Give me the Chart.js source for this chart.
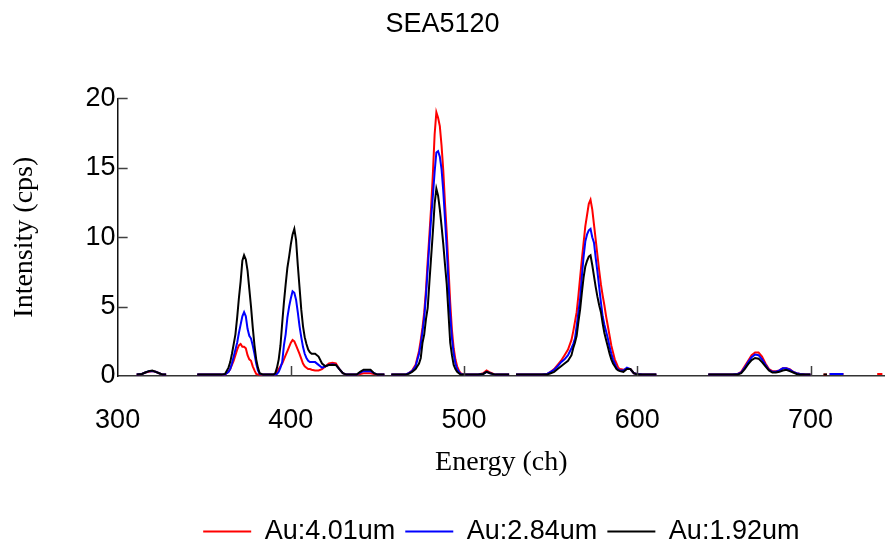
<!DOCTYPE html>
<html>
<head>
<meta charset="utf-8">
<script src="https://cdn.jsdelivr.net/npm/chart.js@4/dist/chart.umd.min.js"></script>
<style>
html,body{margin:0;padding:0;background:#fff;}
#wrap{width:885px;height:546px;}
</style>
</head>
<body>
<div id="wrap"><canvas id="c" width="885" height="546"></canvas></div>
<script>
const titleText = "SEA5120";
const xTitle = "Energy (ch)";
const yTitle = "Intensity (cps)";
const seriesNames = ["Au:4.01um", "Au:2.84um", "Au:1.92um"];
const seriesColors = ["#ff0000", "#0000ff", "#000000"];
const xTicks = [300, 400, 500, 600, 700];
const yTicks = [0, 5, 10, 15, 20];

const channels = [
 311,314,316,318,320,322,324,326,328,337,
 346,350,355,360,362,364,365,366,367,368,369,370,371,372,373,374,375,376,377,378,379,380,381,382,384,386,388,390,
 391,392,393,394,395,396,397,398,399,400,401,402,403,404,405,406,407,408,409,410,411,412,414,416,418,420,422,424,426,428,430,432,434,436,438,440,442,444,446,448,450,452,454,456,
 458,462,466,468,470,472,474,475,476,477,478,479,480,481,482,483,484,485,486,487,488,489,490,491,492,493,494,495,496,497,498,500,504,508,511,513,515,518,522,526,528,
 530,535,540,545,548,550,552,554,556,558,560,562,563,564,565,566,567,568,569,570,571,572,573,574,575,576,577,578,579,580,581,582,583,584,585,586,587,588,589,590,592,594,596,598,600,603,606,609,611,625,
 641,645,650,655,658,660,662,664,666,668,670,672,674,676,678,680,682,684,686,688,690,692,694,697,700,704,
 707.5,709.5,710.5,711,715,719,725,738.5,741.5
];

const red = [
 0.1,0.15,0.25,0.3,0.35,0.3,0.2,0.1,0.1,null,
 0.1,0.1,0.1,0.1,0.1,0.3,0.5,0.8,1.1,1.5,1.9,2.2,2.3,2.1,2.1,2.0,1.5,1.2,1.1,0.7,0.4,0.15,0.1,0.1,0.1,0.1,0.1,0.1,
 0.1,0.3,0.5,0.7,0.9,1.2,1.5,1.8,2.1,2.4,2.6,2.5,2.2,1.9,1.6,1.25,0.9,0.7,0.6,0.5,0.5,0.45,0.4,0.4,0.5,0.7,0.9,0.95,0.9,0.5,0.2,0.1,0.1,0.1,0.1,0.15,0.2,0.2,0.2,0.15,0.1,0.1,0.1,null,
 0.1,0.1,0.1,0.2,0.4,0.8,1.8,2.6,3.5,4.6,6.2,8.3,10.2,12.2,14.6,17.4,19.0,18.6,18.0,16.6,14.8,12.4,10.3,7.8,5.3,3.3,2.0,1.2,0.7,0.4,0.2,0.1,0.1,0.1,0.2,0.4,0.25,0.1,0.1,0.1,null,
 0.1,0.1,0.1,0.1,0.15,0.3,0.5,0.8,1.1,1.5,1.9,2.6,3.2,3.9,4.6,5.8,7.1,8.4,9.6,10.8,11.6,12.4,12.7,12.0,10.9,9.8,8.7,7.6,6.6,5.8,5.1,4.3,3.6,2.9,2.2,1.7,1.2,0.9,0.6,0.5,0.45,0.5,0.5,0.2,0.15,0.1,0.1,0.1,0.1,null,
 0.1,0.1,0.1,0.1,0.15,0.3,0.7,1.1,1.5,1.7,1.7,1.4,0.9,0.5,0.35,0.35,0.4,0.55,0.55,0.5,0.3,0.2,0.15,0.1,0.1,null,
 0.1,0.1,null,0.15,0.15,0.15,null,0.15,0.15
];

const blue = [
 0.1,0.15,0.25,0.35,0.35,0.3,0.2,0.1,0.1,null,
 0.1,0.1,0.1,0.1,0.1,0.3,0.5,0.9,1.4,1.9,2.4,3.1,3.7,4.3,4.6,4.3,3.4,2.9,2.7,2.2,1.6,0.9,0.4,0.15,0.1,0.1,0.1,0.1,
 0.1,0.15,0.3,0.6,1.0,2.2,3.0,4.2,5.0,5.6,6.1,6.0,5.5,4.6,3.6,2.8,2.1,1.6,1.3,1.1,1.0,1.0,1.0,0.8,0.6,0.7,0.8,0.85,0.8,0.5,0.2,0.1,0.1,0.1,0.1,0.25,0.35,0.35,0.35,0.2,0.1,0.1,0.1,null,
 0.1,0.1,0.1,0.2,0.35,0.7,1.6,2.3,3.2,4.2,5.8,7.7,9.6,11.4,13.0,14.7,16.1,16.2,15.8,14.9,13.3,11.3,9.2,6.7,4.4,2.7,1.6,0.9,0.5,0.3,0.15,0.1,0.1,0.1,0.15,0.3,0.2,0.1,0.1,0.1,null,
 0.1,0.1,0.1,0.1,0.15,0.3,0.45,0.7,1.0,1.2,1.5,2.0,2.3,2.7,3.6,4.6,5.6,7.2,8.6,9.7,10.2,10.5,10.6,10.0,9.6,8.5,7.5,6.4,5.3,4.3,3.7,3.2,2.7,2.1,1.6,1.2,0.9,0.6,0.45,0.4,0.4,0.6,0.5,0.2,0.15,0.1,0.1,0.1,0.1,null,
 0.1,0.1,0.1,0.1,0.15,0.25,0.6,1.0,1.35,1.55,1.5,1.2,0.8,0.45,0.3,0.3,0.4,0.55,0.55,0.45,0.3,0.2,0.15,0.1,0.1,null,
 null,null,null,0.15,0.15,0.15,null,null,null
];

const black = [
 0.1,0.15,0.25,0.35,0.4,0.3,0.2,0.1,0.1,null,
 0.1,0.1,0.1,0.1,0.15,0.6,1.0,1.6,2.3,3.0,4.2,5.6,6.8,8.3,8.7,8.4,7.6,6.3,5.0,3.5,2.2,1.2,0.6,0.2,0.1,0.1,0.1,0.1,
 0.2,0.6,1.2,2.2,3.8,5.3,6.6,7.8,8.6,9.5,10.2,10.6,9.8,8.0,6.4,4.8,3.6,2.8,2.3,1.9,1.7,1.6,1.6,1.4,0.9,0.7,0.8,0.8,0.8,0.5,0.2,0.1,0.1,0.1,0.1,0.3,0.45,0.45,0.45,0.2,0.1,0.1,0.1,null,
 0.1,0.1,0.1,0.15,0.3,0.5,0.9,1.3,2.4,3.0,4.1,4.9,6.8,8.6,10.4,12.4,13.5,13.0,12.0,10.8,9.5,8.0,6.6,4.5,2.4,1.5,0.8,0.5,0.3,0.2,0.1,0.1,0.1,0.1,0.15,0.3,0.2,0.1,0.1,0.1,null,
 0.1,0.1,0.1,0.1,0.1,0.2,0.3,0.5,0.7,0.9,1.1,1.5,2.0,2.4,2.9,3.9,4.8,6.0,7.1,7.9,8.3,8.6,8.7,8.0,7.2,6.4,5.7,5.1,4.6,3.8,3.1,2.6,2.1,1.6,1.2,0.9,0.7,0.5,0.4,0.35,0.3,0.5,0.5,0.2,0.1,0.1,0.1,0.1,0.1,null,
 0.1,0.1,0.1,0.1,0.1,0.2,0.5,0.85,1.15,1.3,1.25,1.0,0.7,0.4,0.25,0.25,0.3,0.4,0.45,0.35,0.25,0.15,0.1,0.1,0.1,null,
 0.1,0.1,null,null,null,null,null,null,null
];

const seriesValues = [red, blue, black];

function toPoints(vals){
  return channels.map((c,i)=>({x:c, y:vals[i]}));
}

const sansFont = "'Liberation Sans', Arial, sans-serif";
const serifFont = "'Liberation Serif', 'Times New Roman', serif";

const innerTicks = {
  id: 'innerTicks',
  afterDatasetsDraw(chart){
    const {ctx, chartArea, scales} = chart;
    ctx.save();
    ctx.strokeStyle = '#404040';
    ctx.lineWidth = 1.5;
    ctx.beginPath();
    yTicks.forEach(v=>{
      if (v === 0) return;
      const y = Math.round(scales.y.getPixelForValue(v)) + 0.5;
      ctx.moveTo(chartArea.left, y);
      ctx.lineTo(chartArea.left + 10, y);
    });
    xTicks.forEach(v=>{
      if (v === 300) return;
      const x = Math.round(scales.x.getPixelForValue(v)) + 0.5;
      ctx.moveTo(x, chartArea.bottom);
      ctx.lineTo(x, chartArea.bottom - 10);
    });
    ctx.stroke();
    ctx.restore();
  }
};

new Chart(document.getElementById('c'), {
  type: 'line',
  data: {
    datasets: seriesNames.map((n,i)=>({
      label: n,
      data: toPoints(seriesValues[i]),
      borderColor: seriesColors[i],
      backgroundColor: seriesColors[i],
      borderWidth: 2,
      pointRadius: 0,
      tension: 0,
      spanGaps: false,
      order: 3 - i
    }))
  },
  options: {
    responsive: false,
    animation: false,
    devicePixelRatio: 1,
    layout: {padding: {left: 0, right: 0, top: 0, bottom: -9}},
    plugins: {
      title: {
        display: true,
        text: titleText,
        color: '#000',
        font: {family: sansFont, size: 27, weight: 'normal'},
        padding: {top: 8, bottom: 58}
      },
      legend: {
        display: true,
        position: 'bottom',
        fullSize: false,
        labels: {
          color: '#000',
          font: {family: sansFont, size: 27},
          usePointStyle: true,
          pointStyle: 'line',
          pointStyleWidth: 48,
          padding: 10,
          sort: (a,b)=>a.datasetIndex-b.datasetIndex
        }
      },
      tooltip: {enabled: false}
    },
    scales: {
      x: {
        type: 'linear',
        min: 300,
        max: 743,
        grid: {display: false, drawTicks: false},
        border: {display: true, color: '#333', width: 1.5},
        afterBuildTicks: (scale)=>{ scale.ticks = xTicks.map(v=>({value:v})); },
        ticks: {color: '#000', font: {family: sansFont, size: 27}, padding: 28, maxRotation: 0},
        title: {display: true, text: xTitle, color: '#000', font: {family: serifFont, size: 28}, padding: {top: -19, bottom: 29}}
      },
      y: {
        min: 0,
        max: 20,
        grid: {display: false, drawTicks: false},
        border: {display: true, color: '#111', width: 1.5},
        afterBuildTicks: (scale)=>{ scale.ticks = yTicks.map(v=>({value:v})); },
        ticks: {color: '#000', font: {family: sansFont, size: 27}, padding: 2},
        title: {display: true, text: yTitle, color: '#000', font: {family: serifFont, size: 28}, padding: {top: 8, bottom: 42}}
      }
    }
  },
  plugins: [innerTicks]
});
</script>
</body>
</html>
